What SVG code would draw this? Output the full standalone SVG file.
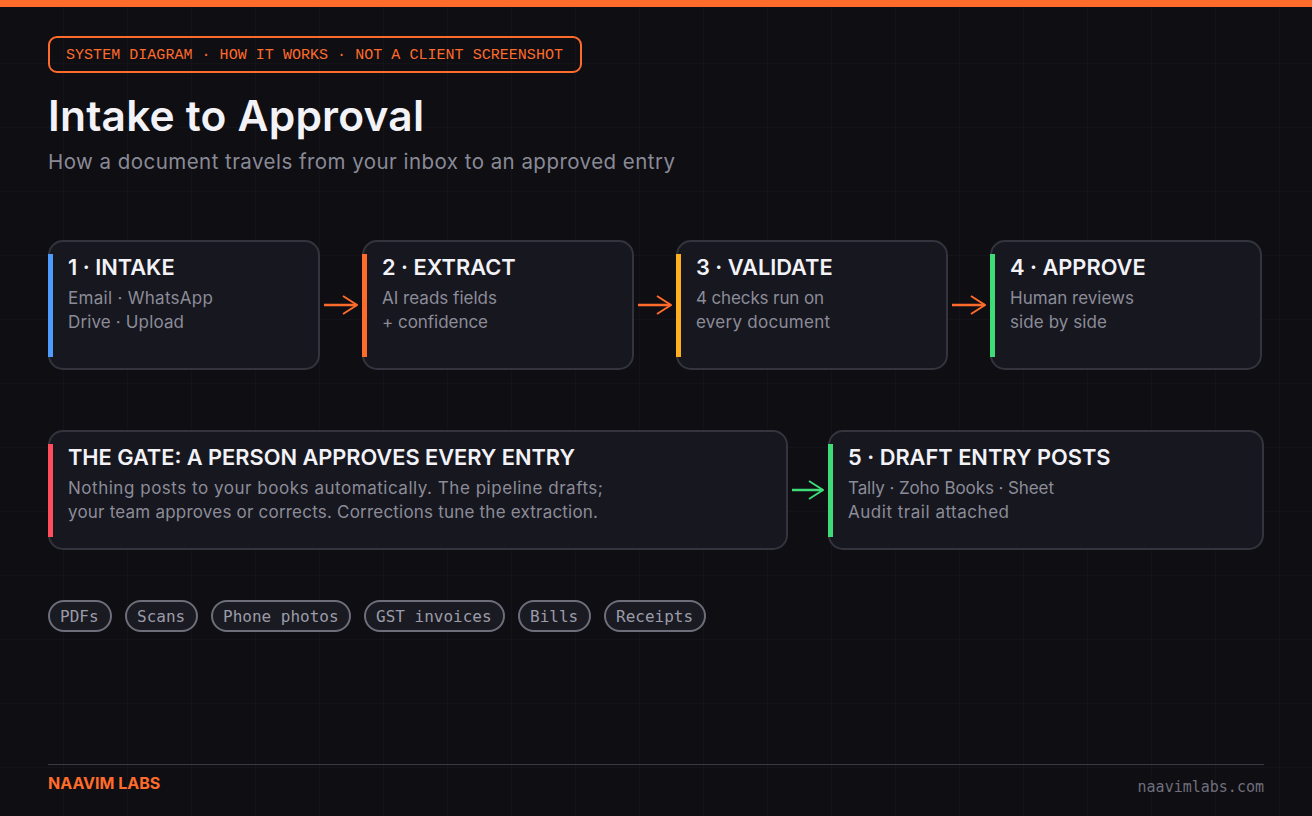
<svg xmlns="http://www.w3.org/2000/svg" width="1312" height="816" viewBox="0 0 1312 816">
<defs>
<pattern id="grid" x="0" y="0" width="64" height="64" patternUnits="userSpaceOnUse">
<path d="M64 0 V64 M0 64 H64" fill="none" stroke="#18181e" stroke-width="1"/>
</pattern>
<marker id="ahO" viewBox="0 0 16 20" refX="15" refY="10" markerWidth="16" markerHeight="20" markerUnits="userSpaceOnUse" orient="auto">
<path d="M1 1 L15 10 L1 19" fill="none" stroke="#ff6b2b" stroke-width="2"/>
</marker>
<marker id="ahG" viewBox="0 0 16 20" refX="15" refY="10" markerWidth="16" markerHeight="20" markerUnits="userSpaceOnUse" orient="auto">
<path d="M1 1 L15 10 L1 19" fill="none" stroke="#3ddc76" stroke-width="2"/>
</marker>
</defs>
<style>
.card{fill:#17171f;stroke:#34343e;stroke-width:2}
.ttl{font-family:Inter,"Noto Sans",sans-serif;font-weight:600;font-size:21.8px;fill:#f2f2f7}
.sub{font-family:Inter,"Noto Sans",sans-serif;font-size:17px;fill:#8c8c98}
.chip{fill:#1a1a22;stroke:#6e6e7a;stroke-width:2}
.chipt{font-family:"DejaVu Sans Mono",monospace;font-size:16px;fill:#9c9ca8}
.con{fill:none;stroke-width:2.5}
</style>
<rect width="1312" height="816" fill="#0e0e13"/>
<rect width="1312" height="816" fill="url(#grid)"/>
<rect width="1312" height="7" fill="#ff6b2b"/>

<g id="tag">
<rect x="49" y="37" width="532" height="35" rx="8" fill="none" stroke="#ff6b2b" stroke-width="2"/>
<text x="66" y="59" font-family="'Liberation Mono',monospace" font-size="15" fill="#ff6b2b" textLength="497" lengthAdjust="spacing">SYSTEM DIAGRAM · HOW IT WORKS · NOT A CLIENT SCREENSHOT</text>
</g>
<g id="header">
<text x="48" y="131" font-family="Inter,'Noto Sans',sans-serif" font-weight="600" font-size="42.5" fill="#f2f2f7" textLength="376" lengthAdjust="spacing">Intake to Approval</text>
<text x="48" y="169" font-family="Inter,'Noto Sans',sans-serif" font-size="20.5" fill="#8a8a96" textLength="627" lengthAdjust="spacing">How a document travels from your inbox to an approved entry</text>
</g>

<g id="connectors">
<line class="con" x1="324" y1="305" x2="357" y2="305" stroke="#ff6b2b" marker-end="url(#ahO)"/>
<line class="con" x1="638" y1="305" x2="671" y2="305" stroke="#ff6b2b" marker-end="url(#ahO)"/>
<line class="con" x1="952" y1="305" x2="985" y2="305" stroke="#ff6b2b" marker-end="url(#ahO)"/>
<line class="con" x1="792" y1="490" x2="823" y2="490" stroke="#3ddc76" marker-end="url(#ahG)"/>
</g>

<g id="n1">
<rect class="card" x="49" y="241" width="270" height="128" rx="14"/>
<rect x="48" y="254" width="5" height="103" fill="#4d9bff"/>
<text class="ttl" x="68" y="275">1 · INTAKE</text>
<text class="sub" x="68" y="304" textLength="145" lengthAdjust="spacing">Email · WhatsApp</text>
<text class="sub" x="68" y="328" textLength="116" lengthAdjust="spacing">Drive · Upload</text>
</g>
<g id="n2">
<rect class="card" x="363" y="241" width="270" height="128" rx="14"/>
<rect x="362" y="254" width="5" height="103" fill="#ff6b2b"/>
<text class="ttl" x="382" y="275">2 · EXTRACT</text>
<text class="sub" x="382" y="304" textLength="115" lengthAdjust="spacing">AI reads fields</text>
<text class="sub" x="382" y="328" textLength="106" lengthAdjust="spacing">+ confidence</text>
</g>
<g id="n3">
<rect class="card" x="677" y="241" width="270" height="128" rx="14"/>
<rect x="676" y="254" width="5" height="103" fill="#ffb020"/>
<text class="ttl" x="696" y="275">3 · VALIDATE</text>
<text class="sub" x="696" y="304" textLength="128" lengthAdjust="spacing">4 checks run on</text>
<text class="sub" x="696" y="328" textLength="134" lengthAdjust="spacing">every document</text>
</g>
<g id="n4">
<rect class="card" x="991" y="241" width="270" height="128" rx="14"/>
<rect x="990" y="254" width="5" height="103" fill="#3ddc76"/>
<text class="ttl" x="1010" y="275">4 · APPROVE</text>
<text class="sub" x="1010" y="304" textLength="124" lengthAdjust="spacing">Human reviews</text>
<text class="sub" x="1010" y="328" textLength="97" lengthAdjust="spacing">side by side</text>
</g>
<g id="gate">
<rect class="card" x="49" y="431" width="738" height="118" rx="14"/>
<rect x="48" y="444" width="5" height="93" fill="#ff4d5e"/>
<text class="ttl" x="68" y="465" textLength="507" lengthAdjust="spacing">THE GATE: A PERSON APPROVES EVERY ENTRY</text>
<text class="sub" x="68" y="494" textLength="535" lengthAdjust="spacing">Nothing posts to your books automatically. The pipeline drafts;</text>
<text class="sub" x="68" y="518" textLength="530" lengthAdjust="spacing">your team approves or corrects. Corrections tune the extraction.</text>
</g>
<g id="n5">
<rect class="card" x="829" y="431" width="434" height="118" rx="14"/>
<rect x="828" y="444" width="5" height="93" fill="#3ddc76"/>
<text class="ttl" x="848" y="465">5 · DRAFT ENTRY POSTS</text>
<text class="sub" x="848" y="494" textLength="206" lengthAdjust="spacing">Tally · Zoho Books · Sheet</text>
<text class="sub" x="848" y="518" textLength="161" lengthAdjust="spacing">Audit trail attached</text>
</g>

<g id="chips">
<rect class="chip" x="49" y="601" width="62" height="30" rx="15"/>
<text class="chipt" x="60" y="622">PDFs</text>
<rect class="chip" x="126" y="601" width="71" height="30" rx="15"/>
<text class="chipt" x="137" y="622">Scans</text>
<rect class="chip" x="212" y="601" width="138" height="30" rx="15"/>
<text class="chipt" x="223" y="622">Phone photos</text>
<rect class="chip" x="365" y="601" width="139" height="30" rx="15"/>
<text class="chipt" x="376" y="622">GST invoices</text>
<rect class="chip" x="519" y="601" width="71" height="30" rx="15"/>
<text class="chipt" x="530" y="622">Bills</text>
<rect class="chip" x="605" y="601" width="100" height="30" rx="15"/>
<text class="chipt" x="616" y="622">Receipts</text>
</g>

<g id="footer">
<line x1="48" y1="764.5" x2="1264" y2="764.5" stroke="#3a3a46" stroke-width="1"/>
<text x="48" y="789" font-family="Inter,'Noto Sans',sans-serif" font-weight="700" font-size="16" fill="#ff6b2b">NAAVIM LABS</text>
<text x="1264" y="792" text-anchor="end" font-family="'DejaVu Sans Mono',monospace" font-size="15" fill="#6f6f7b">naavimlabs.com</text>
</g>
</svg>
